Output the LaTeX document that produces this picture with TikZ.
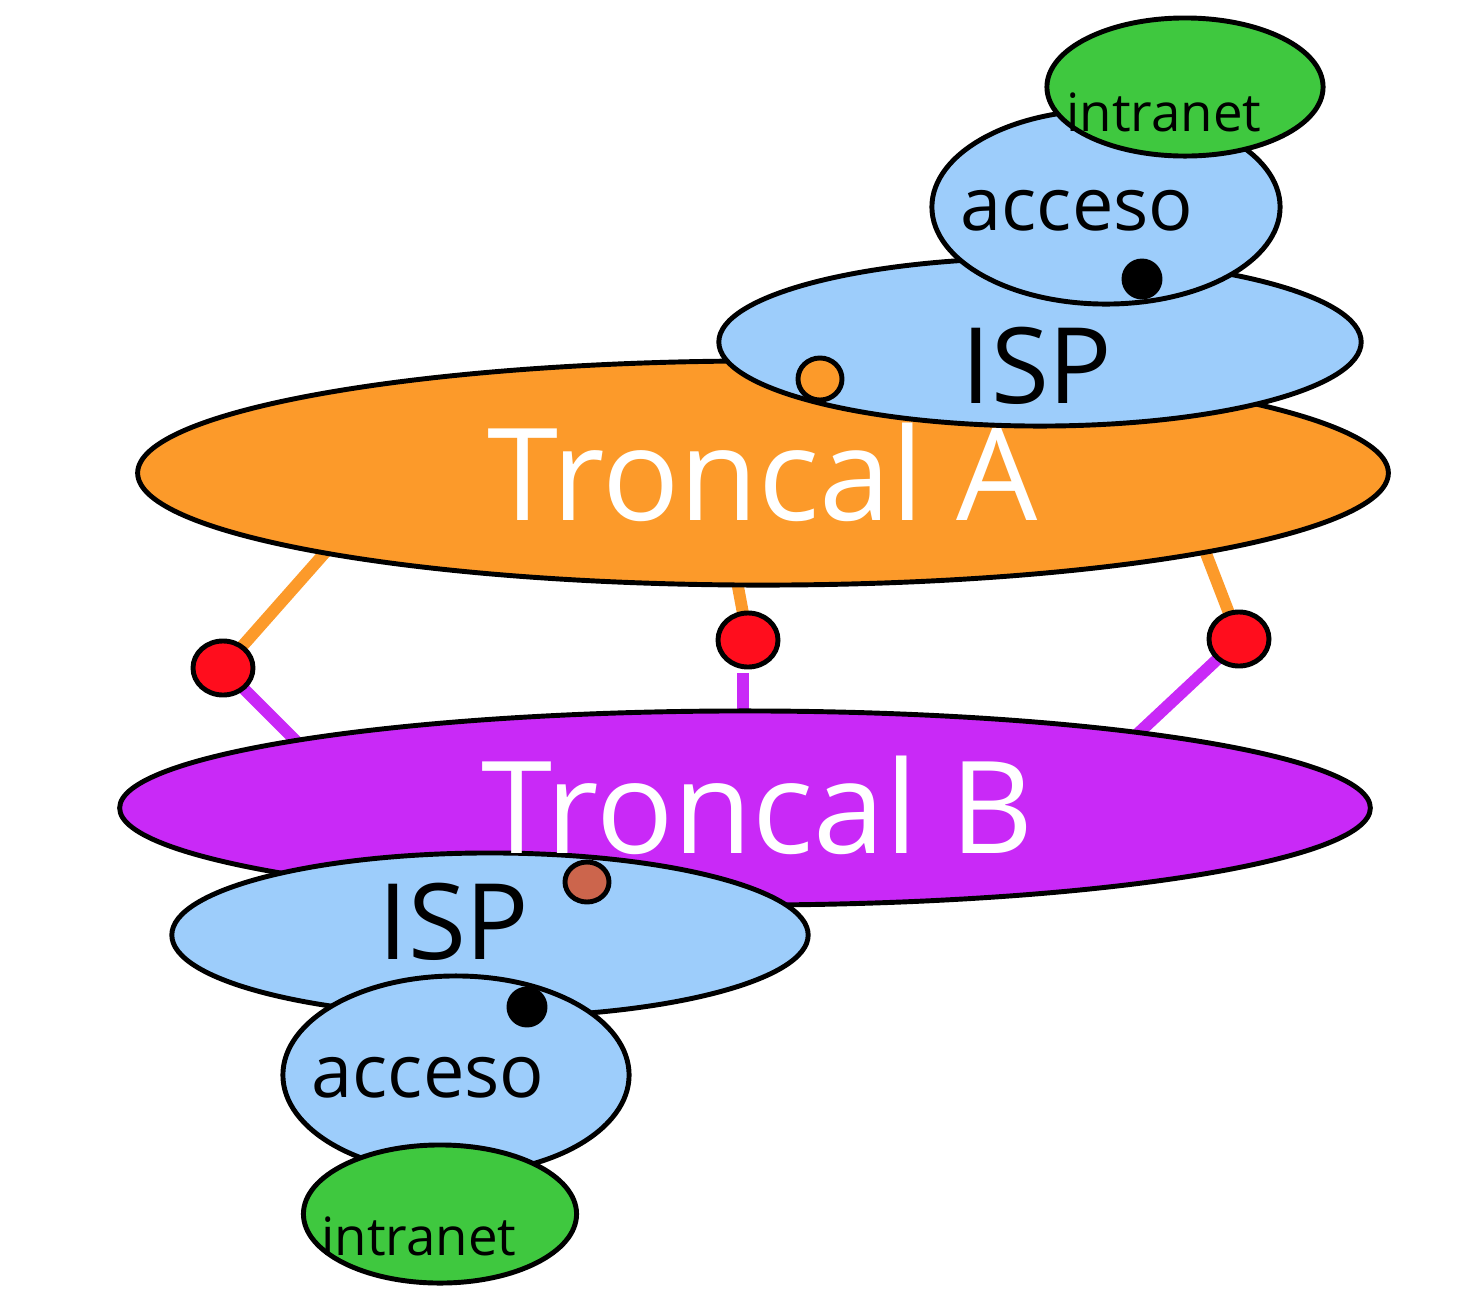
\documentclass[tikz,border=0pt]{standalone}
\usepackage{fontspec}
\setmainfont{Open Sans}
\usetikzlibrary{shapes.geometric}
\pgfdeclarelayer{bg}
\pgfsetlayers{bg,main}
\definecolor{orA}{HTML}{FC9A2A}
\definecolor{blu}{HTML}{9DCDFB}
\definecolor{grn}{HTML}{3FC83F}
\definecolor{pur}{HTML}{C929F7}
\definecolor{redd}{HTML}{FF0D1D}
\definecolor{brn}{HTML}{CC654C}
\tikzset{
  blob/.style={ellipse, draw=black, line width=1.4pt, inner sep=0pt, outer sep=0pt},
  spot/.style={ellipse, draw=black, line width=1.4pt, inner sep=0pt, outer sep=0pt},
  link/.style={line width=3.4pt},
  lbl/.style={anchor=base, inner sep=0pt},
  big/.style={lbl, font=\fontsize{36.5}{40}\selectfont, text=white},
  isp/.style={lbl, font=\fontsize{30}{32}\selectfont},
  acc/.style={lbl, font=\fontsize{21}{23}\selectfont},
  intr/.style={lbl, font=\fontsize{15}{17}\selectfont},
}
\begin{document}
\begin{tikzpicture}[x=0.01cm,y=-0.01cm]
\useasboundingbox (0,0) rectangle (1478,1290);
% upper group
\node[blob, fill=orA, minimum width=12.5cm, minimum height=2.24cm] (ta) at (763,473) {};
\node[blob, fill=blu, minimum width=6.42cm, minimum height=1.68cm] (ispA) at (1040,342) {};
\node[blob, fill=blu, minimum width=3.48cm, minimum height=1.94cm] (accA) at (1106,207) {};
\node[blob, fill=grn, minimum width=2.76cm, minimum height=1.38cm] (intA) at (1185,87) {};
\node[spot, fill=orA, minimum width=0.44cm, minimum height=0.42cm] (odot) at (820,379) {};
\node[spot, fill=black, minimum width=0.36cm, minimum height=0.36cm] (bdotA) at (1142,279) {};
% lower group
\node[blob, fill=pur, minimum width=12.5cm, minimum height=1.94cm] (tb) at (745,808) {};
\node[blob, fill=blu, minimum width=6.36cm, minimum height=1.64cm] (ispB) at (490,935) {};
\node[spot, fill=brn, minimum width=0.44cm, minimum height=0.40cm] (brdot) at (587,882) {};
\node[blob, fill=blu, minimum width=3.46cm, minimum height=1.98cm] (accB) at (456,1075) {};
\node[spot, fill=black, minimum width=0.36cm, minimum height=0.36cm] (bdotB) at (527,1007) {};
\node[blob, fill=grn, minimum width=2.73cm, minimum height=1.38cm] (intB) at (440,1214) {};
% routers
\node[spot, fill=redd, minimum width=0.6cm, minimum height=0.54cm] (r1) at (223,668) {};
\node[spot, fill=redd, minimum width=0.6cm, minimum height=0.54cm] (r2) at (748,640) {};
\node[spot, fill=redd, minimum width=0.6cm, minimum height=0.54cm] (r3) at (1239,639) {};
% link end points inside the backbones
\coordinate (a1) at (345,530);
\coordinate (a2) at (733,560);
\coordinate (a3) at (1195,525);
\coordinate (b1) at (315,760);
\coordinate (b2t) at (743,673);
\coordinate (b2) at (743,740);
\coordinate (b3) at (1115,755);
\begin{pgfonlayer}{bg}
  \draw[link, orA] (r1.center) -- (a1);
  \draw[link, orA] (r2.center) -- (a2);
  \draw[link, orA] (r3.center) -- (a3);
  \draw[link, pur] (r1.center) -- (b1);
  \draw[link, pur] (b2t) -- (b2);
  \draw[link, pur] (r3.center) -- (b3);
\end{pgfonlayer}
% labels
\node[big] (tla) at (763,520) {Troncal A};
\node[big] (tlb) at (758,853) {Troncal B};
\node[isp] (tispA) at (1037,403) {ISP};
\node[acc] (taccA) at (1077,230) {acceso};
\node[intr] (tintA) at (1164,131) {intranet};
\node[isp] (tispB) at (454,959) {ISP};
\node[acc] (taccB) at (428,1097) {acceso};
\node[intr] (tintB) at (419,1255) {intranet};
\end{tikzpicture}
\end{document}
